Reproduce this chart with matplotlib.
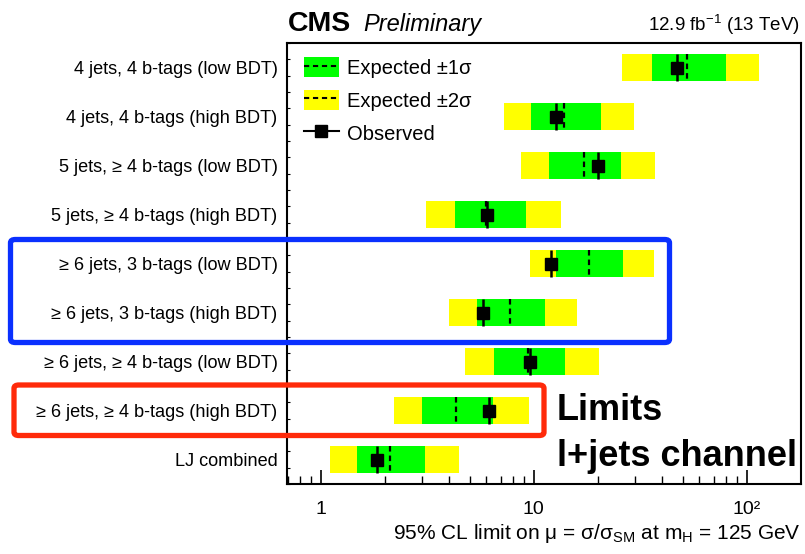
import matplotlib
matplotlib.use("Agg")
import matplotlib.pyplot as plt
from matplotlib.patches import Patch, FancyBboxPatch
from matplotlib.lines import Line2D
from matplotlib.ticker import LogLocator, FixedLocator, NullFormatter
import numpy as np

plt.rcParams['font.family'] = ['Liberation Sans', 'DejaVu Sans']
plt.rcParams['mathtext.fontset'] = 'custom'
plt.rcParams['mathtext.rm'] = 'Liberation Sans'
plt.rcParams['mathtext.it'] = 'Liberation Sans:italic'
plt.rcParams['mathtext.bf'] = 'Liberation Sans:bold'

categories = [
    "4 jets, 4 b-tags (low BDT)",
    "4 jets, 4 b-tags (high BDT)",
    "5 jets, \u2265 4 b-tags (low BDT)",
    "5 jets, \u2265 4 b-tags (high BDT)",
    "\u2265 6 jets, 3 b-tags (low BDT)",
    "\u2265 6 jets, 3 b-tags (high BDT)",
    "\u2265 6 jets, \u2265 4 b-tags (low BDT)",
    "\u2265 6 jets, \u2265 4 b-tags (high BDT)",
    "LJ combined",
]
observed = [46.9, 12.7, 20.0, 6.04, 12.1, 5.80, 9.6, 6.15, 1.83]
expected = [52.6, 13.9, 17.2, 6.0, 18.1, 7.74, 9.4, 4.33, 2.12]
minus2 = [26.1, 7.26, 8.72, 3.13, 9.6, 4.02, 4.77, 2.22, 1.10]
minus1 = [35.8, 9.68, 11.8, 4.26, 12.8, 5.40, 6.51, 3.00, 1.48]
plus1 = [79.7, 20.6, 25.6, 9.2, 26.2, 11.3, 14.0, 6.46, 3.10]
plus2 = [114.0, 29.7, 37.0, 13.4, 36.7, 15.9, 20.3, 9.48, 4.44]
xtick_values = [1, 10, 100]
xtick_labels = ["1", "10", "10\u00b2"]

GREEN = "#00ff00"
YELLOW = "#ffff00"

W, H = 805, 554
fig = plt.figure(figsize=(W / 100, H / 100), dpi=100)
ax = fig.add_axes([287.3 / W, 1 - 484 / H, (801 - 287.3) / W, (484 - 43) / H])

n = len(categories)
y = np.arange(n) + 0.5
bh = 0.55
m2, m1, p1, p2 = map(np.array, (minus2, minus1, plus1, plus2))
ax.barh(y, p2 - m2, left=m2, height=bh, color=YELLOW, lw=0, zorder=1)
ax.barh(y, p1 - m1, left=m1, height=bh, color=GREEN, lw=0, zorder=2)
ax.vlines(expected, y - bh / 2, y + bh / 2, colors='k', linestyles=(0, (2.5, 1.8)), lw=1.6, zorder=3)
ax.vlines(observed, y - bh / 2, y + bh / 2, colors='k', lw=1.8, zorder=4)
ax.plot(observed, y, ls='none', marker='s', ms=8.5, color='k', zorder=5)

ax.set_xscale('log')
ax.set_xlim(0.697, 180)
ax.set_ylim(n, 0)
ax.set_yticks(y)
ax.set_yticklabels(categories, fontsize=13.1)
ax.tick_params(axis='y', length=0, pad=7)
ax.yaxis.set_minor_locator(FixedLocator(np.linspace(0, n, 28)))
ax.tick_params(axis='y', which='minor', direction='in', length=2, width=0.8)
ax.xaxis.set_major_locator(FixedLocator(xtick_values))
ax.set_xticklabels(xtick_labels, fontsize=14)
ax.xaxis.set_minor_locator(LogLocator(base=10, subs=np.arange(2, 10)))
ax.xaxis.set_minor_formatter(NullFormatter())
ax.tick_params(axis='x', which='major', direction='in', length=10, width=1.2, pad=12)
ax.tick_params(axis='x', which='minor', direction='in', length=5.5, width=1.0)
for s in ax.spines.values():
    s.set_linewidth(1.5)

ax.set_xlabel("95% CL limit on \u03bc = \u03c3/\u03c3$_{\\mathrm{SM}}$ at m$_{\\mathrm{H}}$ = 125 GeV",
              fontsize=15, loc='right', labelpad=3)

# legend
h1 = (Patch(fc=GREEN, lw=0), Line2D([], [], ls=(0, (2.5, 1.8)), color='k', lw=1.5))
h2 = (Patch(fc=YELLOW, lw=0), Line2D([], [], ls=(0, (2.5, 1.8)), color='k', lw=1.5))
h3 = Line2D([], [], color='k', marker='s', ms=8.5, lw=1.5)
ax.legend([h1, h2, h3], ["Expected \u00b11\u03c3", "Expected \u00b12\u03c3", "Observed"],
          loc='upper left', bbox_to_anchor=(0.032, 0.968), frameon=False, fontsize=14.5,
          handlelength=1.75, handleheight=1.15, handletextpad=0.42, labelspacing=0.6,
          borderpad=0, borderaxespad=0)

# header texts
fig.text(288 / W, 1 - 31 / H, "CMS", fontsize=20.5, fontweight='bold', va='baseline', ha='left')
fig.text(363 / W, 1 - 31 / H, "Preliminary", fontsize=17, fontstyle='italic', va='baseline', ha='left')
fig.text(800 / W, 1 - 31 / H, "12.9 fb$^{-1}$ (13 TeV)", fontsize=13.5, va='baseline', ha='right')

# annotation
fig.text(557 / W, 1 - 420 / H, "Limits", fontsize=26, fontweight='bold', va='baseline', ha='left')
fig.text(557 / W, 1 - 466 / H, "l+jets channel", fontsize=26, fontweight='bold', va='baseline', ha='left')

# highlight boxes (figure pixel coordinates)
def box(x0, y0, x1, y1, color):
    p = FancyBboxPatch((x0 / W, 1 - y1 / H), (x1 - x0) / W, (y1 - y0) / H,
                       boxstyle="round,pad=0,rounding_size=0.006", transform=fig.transFigure,
                       fill=False, ec=color, lw=3.8, zorder=10, clip_on=False)
    fig.add_artist(p)

box(10.5, 239.5, 669.5, 342.5, "#0a30ff")
box(14, 385, 544, 435.5, "#ff2a0a")

fig.savefig("out.png", dpi=100)
